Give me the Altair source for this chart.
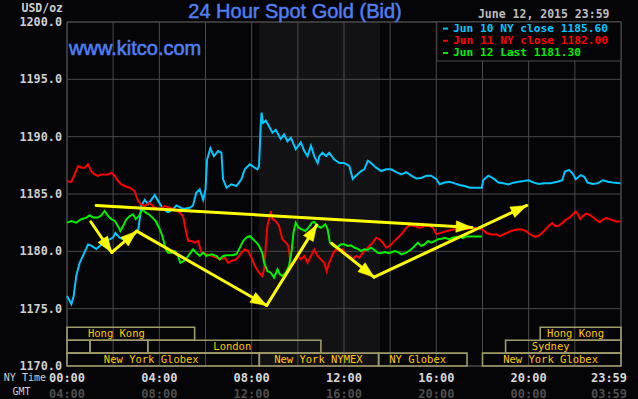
import math
import altair as alt
import pandas as pd

# ---------------- data ----------------
cyan_h = [0.0, 0.19, 0.29, 0.4, 0.55, 0.69, 0.91, 1.05, 1.27, 1.49, 1.7, 1.99, 2.1, 2.28, 2.5, 2.72, 2.93, 3.08, 3.15, 3.22, 3.37, 3.51, 3.8, 3.95, 4.16, 4.38, 4.6, 4.74, 5.03, 5.32, 5.46, 5.6, 5.75, 5.9, 6.0, 6.07, 6.21, 6.36, 6.55, 6.69, 6.76, 6.91, 7.12, 7.34, 7.56, 7.7, 7.92, 8.13, 8.25, 8.32, 8.39, 8.43, 8.49, 8.61, 8.75, 8.9, 9.04, 9.26, 9.4, 9.55, 9.7, 9.91, 10.13, 10.28, 10.42, 10.57, 10.71, 10.86, 10.93, 11.07, 11.22, 11.36, 11.58, 11.8, 12.01, 12.23, 12.38, 12.52, 12.74, 12.88, 13.03, 13.17, 13.39, 13.61, 13.83, 14.04, 14.26, 14.48, 14.7, 14.91, 15.13, 15.35, 15.57, 15.78, 16.0, 16.14, 16.36, 16.57, 16.79, 17.0, 17.23, 17.45, 17.74, 17.97, 18.03, 18.25, 18.47, 18.69, 18.9, 19.12, 19.34, 19.56, 19.78, 20.0, 20.22, 20.44, 20.66, 20.95, 21.24, 21.46, 21.56, 21.75, 21.9, 22.04, 22.26, 22.41, 22.55, 22.77, 22.99, 23.21, 23.43, 23.65, 23.98]
cyan_p = [1176.1, 1175.4, 1176.1, 1177.85, 1179.0, 1179.6, 1180.6, 1180.5, 1180.2, 1180.6, 1180.9, 1181.2, 1181.6, 1181.2, 1181.0, 1181.2, 1181.5, 1181.8, 1182.8, 1184.0, 1184.5, 1184.1, 1184.9, 1184.4, 1183.7, 1183.4, 1183.7, 1184.0, 1183.7, 1183.8, 1184.0, 1185.1, 1185.4, 1184.5, 1185.4, 1188.0, 1189.0, 1188.3, 1188.75, 1188.6, 1186.3, 1185.55, 1185.85, 1185.7, 1186.3, 1187.15, 1187.6, 1187.3, 1187.15, 1187.45, 1190.9, 1192.1, 1191.2, 1191.4, 1190.9, 1190.35, 1190.6, 1189.8, 1190.2, 1189.6, 1189.9, 1188.9, 1189.5, 1188.75, 1188.3, 1189.2, 1188.3, 1187.7, 1188.3, 1188.6, 1188.3, 1188.6, 1188.0, 1187.7, 1187.7, 1187.45, 1186.3, 1186.6, 1187.0, 1187.15, 1187.9, 1187.7, 1187.3, 1187.0, 1187.15, 1187.15, 1186.9, 1186.7, 1186.9, 1186.6, 1186.35, 1186.4, 1186.6, 1186.6, 1186.3, 1185.85, 1186.0, 1186.07, 1185.93, 1185.78, 1185.7, 1185.55, 1185.55, 1185.55, 1186.2, 1186.6, 1186.36, 1186.0, 1185.93, 1185.84, 1185.99, 1186.07, 1186.13, 1186.2, 1185.99, 1185.87, 1185.93, 1185.93, 1186.07, 1186.2, 1186.94, 1187.09, 1186.8, 1186.28, 1186.65, 1186.5, 1186.0, 1185.87, 1185.93, 1186.2, 1186.07, 1186.0, 1185.93]

red_h = [0.0, 0.19, 0.33, 0.48, 0.62, 0.77, 0.91, 1.05, 1.2, 1.34, 1.49, 1.63, 1.78, 1.92, 2.07, 2.21, 2.36, 2.5, 2.72, 2.93, 3.08, 3.22, 3.37, 3.58, 3.8, 4.02, 4.23, 4.45, 4.67, 4.88, 5.03, 5.14, 5.25, 5.39, 5.53, 5.68, 5.82, 6.04, 6.26, 6.47, 6.62, 6.84, 6.98, 7.12, 7.34, 7.56, 7.7, 7.85, 7.99, 8.14, 8.32, 8.46, 8.54, 8.61, 8.68, 8.75, 8.83, 8.9, 9.04, 9.19, 9.33, 9.48, 9.59, 9.7, 9.84, 9.99, 10.13, 10.28, 10.42, 10.57, 10.71, 10.86, 11.0, 11.14, 11.25, 11.36, 11.51, 11.65, 11.8, 11.94, 12.09, 12.23, 12.38, 12.52, 12.67, 12.81, 12.96, 13.1, 13.25, 13.39, 13.54, 13.68, 13.83, 13.97, 14.12, 14.26, 14.41, 14.55, 14.7, 14.84, 15.06, 15.28, 15.49, 15.71, 15.86, 16.0, 16.22, 16.42, 16.72, 17.0, 17.3, 17.59, 17.81, 18.0, 18.18, 18.39, 18.61, 18.76, 18.9, 19.05, 19.27, 19.49, 19.71, 19.9, 20.07, 20.29, 20.44, 20.58, 20.73, 20.88, 21.02, 21.17, 21.31, 21.46, 21.61, 21.75, 21.9, 22.04, 22.15, 22.23, 22.34, 22.48, 22.63, 22.77, 22.92, 23.07, 23.21, 23.36, 23.5, 23.65, 23.8, 23.98]
red_p = [1186.13, 1186.05, 1186.7, 1187.44, 1187.3, 1187.3, 1187.6, 1187.0, 1186.7, 1186.57, 1186.7, 1186.7, 1186.7, 1186.86, 1186.57, 1186.13, 1185.84, 1185.7, 1185.55, 1185.26, 1184.39, 1184.1, 1183.95, 1184.24, 1183.8, 1183.66, 1183.95, 1183.8, 1183.66, 1183.37, 1183.08, 1181.9, 1180.9, 1180.9, 1180.76, 1180.9, 1179.9, 1179.74, 1179.6, 1179.45, 1179.3, 1179.45, 1179.0, 1179.16, 1179.3, 1179.88, 1180.17, 1180.03, 1179.45, 1178.72, 1178.14, 1177.85, 1178.43, 1180.47, 1182.2, 1182.8, 1183.5, 1182.8, 1182.65, 1182.2, 1181.05, 1180.76, 1180.47, 1178.72, 1179.0, 1179.6, 1179.3, 1179.6, 1179.0, 1179.6, 1180.17, 1179.6, 1179.3, 1179.0, 1178.28, 1179.0, 1179.74, 1180.17, 1180.03, 1180.17, 1179.74, 1179.6, 1179.3, 1179.6, 1179.45, 1179.88, 1180.17, 1180.47, 1180.76, 1181.19, 1181.05, 1180.76, 1180.32, 1180.47, 1180.76, 1181.05, 1181.34, 1181.63, 1182.06, 1182.27, 1182.2, 1182.06, 1182.2, 1182.2, 1182.06, 1181.48, 1181.63, 1181.75, 1181.9, 1181.98, 1181.95, 1182.04, 1182.04, 1181.9, 1181.6, 1181.47, 1181.47, 1181.32, 1181.47, 1181.6, 1181.8, 1181.9, 1181.9, 1181.75, 1181.47, 1181.26, 1181.38, 1181.6, 1181.9, 1182.24, 1182.47, 1182.18, 1182.24, 1182.47, 1182.76, 1182.9, 1183.19, 1183.48, 1183.19, 1182.82, 1183.05, 1183.28, 1183.19, 1182.99, 1182.76, 1182.53, 1182.76, 1182.9, 1182.82, 1182.7, 1182.61, 1182.61]

green_h = [0.0, 0.19, 0.4, 0.62, 0.84, 0.98, 1.13, 1.34, 1.49, 1.63, 1.78, 1.92, 2.07, 2.21, 2.31, 2.43, 2.57, 2.72, 2.86, 2.98, 3.12, 3.27, 3.41, 3.55, 3.7, 3.84, 3.99, 4.13, 4.28, 4.38, 4.52, 4.67, 4.81, 4.91, 5.06, 5.2, 5.35, 5.46, 5.6, 5.75, 5.9, 6.04, 6.26, 6.47, 6.62, 6.76, 6.91, 7.12, 7.34, 7.49, 7.63, 7.77, 7.92, 8.06, 8.21, 8.32, 8.46, 8.54, 8.68, 8.83, 8.97, 9.12, 9.22, 9.33, 9.48, 9.62, 9.74, 9.81, 9.91, 10.03, 10.17, 10.32, 10.46, 10.61, 10.71, 10.86, 11.0, 11.19, 11.29, 11.39, 11.54, 11.68, 11.87, 12.01, 12.16, 12.3, 12.45, 12.59, 12.74, 12.88, 13.03, 13.17, 13.32, 13.46, 13.61, 13.75, 13.97, 14.19, 14.33, 14.48, 14.7, 14.91, 15.06, 15.2, 15.35, 15.49, 15.64, 15.78, 15.93, 16.07, 16.22, 16.36, 16.55, 16.74, 17.0, 17.15, 17.3, 17.97]
green_p = [1182.5, 1182.65, 1182.5, 1182.8, 1182.94, 1183.14, 1182.94, 1182.94, 1183.14, 1183.52, 1183.08, 1182.8, 1182.65, 1182.2, 1181.77, 1182.2, 1182.8, 1183.08, 1183.23, 1182.8, 1183.08, 1183.66, 1183.37, 1183.23, 1182.94, 1182.65, 1182.06, 1181.34, 1180.17, 1179.88, 1179.88, 1180.03, 1179.6, 1179.0, 1179.16, 1179.45, 1179.88, 1180.17, 1179.88, 1179.6, 1179.88, 1179.6, 1179.74, 1179.6, 1179.3, 1179.6, 1179.65, 1179.65, 1179.74, 1180.32, 1180.9, 1181.2, 1181.34, 1181.05, 1180.76, 1180.47, 1179.88, 1179.0, 1178.28, 1178.14, 1177.7, 1178.43, 1178.0, 1177.85, 1178.14, 1178.72, 1180.17, 1181.63, 1182.5, 1182.06, 1181.92, 1181.77, 1182.06, 1182.5, 1182.56, 1182.2, 1182.06, 1182.35, 1181.92, 1180.76, 1180.47, 1180.32, 1180.61, 1180.61, 1180.47, 1180.52, 1180.32, 1180.23, 1180.03, 1180.17, 1180.12, 1180.32, 1180.12, 1179.88, 1179.83, 1179.94, 1179.83, 1180.03, 1179.94, 1179.74, 1179.88, 1180.17, 1180.47, 1180.76, 1180.47, 1180.61, 1180.9, 1180.76, 1180.9, 1181.05, 1181.1, 1181.19, 1181.05, 1181.2, 1181.3, 1181.15, 1181.3, 1181.3]

legend_labels = ["Jun 10 NY close 1185.60", "Jun 11 NY close 1182.00", "Jun 12 Last 1181.30"]
series_colors = ["#00c8ff", "#ff0000", "#00f000"]

y_ticks = [1170, 1175, 1180, 1185, 1190, 1195, 1200]
x_grid = [0, 2, 4, 6, 8, 10, 12, 14, 16, 18, 20, 22, 24]
ny_label_h = [0, 4, 8, 12, 16, 20, 23.48]
ny_labels = ["00:00", "04:00", "08:00", "12:00", "16:00", "20:00", "23:59"]
gmt_labels = ["04:00", "08:00", "12:00", "16:00", "20:00", "00:00", "03:59"]

nymex_start, nymex_end = 8.33, 13.56

sess_name = ["Hong Kong", "", "", "London", "New York Globex", "New York NYMEX", "NY Globex", "New York Globex", "Sydney", "Hong Kong"]
sess_start = [0, 0, 1.0, 3.5, 0, 8.33, 13.5, 18.0, 19.0, 20.5]
sess_end = [5.53, 1.0, 3.5, 11.0, 8.33, 13.5, 17.33, 24, 24, 24]
sess_row = [1, 2, 2, 2, 3, 3, 3, 3, 2, 1]
sess_label_h = [2.14, None, None, 7.16, 3.65, 10.89, 15.19, 20.95, 20.95, 22.03]

arrow_h1 = [1.26, 1.03, 1.94, 3.02, 8.65, 11.47, 13.30]
arrow_p1 = [1184.0, 1182.58, 1179.9, 1181.76, 1175.28, 1180.69, 1177.75]
arrow_h2 = [17.55, 1.94, 3.02, 8.65, 10.82, 13.30, 19.92]
arrow_p2 = [1182.08, 1179.9, 1181.76, 1175.28, 1182.30, 1177.75, 1184.0]

# ---------------- layout / style ----------------
W, H = 554, 344
PXH = W / 24.0
PXP = H / 30.0
BG = "#050407"
GRID = "#4a4a4a"
MONO = "DejaVu Sans Mono"
SANS = "Liberation Sans"
BLUE = "#4f7ff2"
YEL = "#ffff00"
BOX = "#a09a68"
BOXTXT = "#ffc800"

xs = alt.Scale(domain=[0, 24], nice=False, zero=False)
ys = alt.Scale(domain=[1170, 1200], nice=False, zero=False)


def X(f):
    return alt.X(f, type="quantitative", scale=xs, axis=None)


def Y(f):
    return alt.Y(f, type="quantitative", scale=ys, axis=None)


one = pd.DataFrame({"a": [0]})

# shaded NYMEX window
shade = alt.Chart(pd.DataFrame({"h": [nymex_start], "h2": [nymex_end]})).mark_rect(
    fill="#e8f0e8", opacity=0.06
).encode(x=X("h"), x2="h2:Q", y=alt.value(0), y2=alt.value(H))

# grid
vgrid = alt.Chart(pd.DataFrame({"h": x_grid})).mark_rule(color=GRID, strokeWidth=1).encode(
    x=X("h"), y=alt.value(0), y2=alt.value(H))
hgrid = alt.Chart(pd.DataFrame({"p": y_ticks})).mark_rule(color=GRID, strokeWidth=1).encode(
    y=Y("p"), x=alt.value(0), x2=alt.value(W))
ylab_df = pd.DataFrame({"p": y_ticks, "t": [f"{v:.1f}" for v in y_ticks]})
ylabels = alt.Chart(ylab_df).mark_text(font=MONO, fontSize=11.8, fontWeight="bold", color="#cfcfcf",
                                       align="right", baseline="middle").encode(
    y=Y("p"), x=alt.value(-5), text="t:N")

# session boxes
ROW = 1.125
sess = pd.DataFrame({"name": sess_name, "h": sess_start, "h2": sess_end, "row": sess_row, "lh": sess_label_h})
sess["p"] = 1170 + (3 - sess["row"]) * ROW
sess["p2"] = sess["p"] + ROW
sess["pc"] = sess["p"] + ROW / 2
boxes = alt.Chart(sess).mark_rect(fillOpacity=0, stroke=BOX, strokeWidth=1.6).encode(
    x=X("h"), x2="h2:Q", y=Y("p"), y2="p2:Q")
sess_lab = sess[sess["name"] != ""]
box_text = alt.Chart(sess_lab).mark_text(font=MONO, fontSize=10.5, color=BOXTXT, align="center",
                                         baseline="middle", dy=0.5).encode(
    x=X("lh"), y=Y("pc"), text="name:N")


# price lines
def line_layer(hs, ps, color):
    df = pd.DataFrame({"h": hs, "p": ps})
    return alt.Chart(df).mark_line(color=color, strokeWidth=2, interpolate="linear").encode(
        x=X("h"), y=Y("p"))


l_cyan = line_layer(cyan_h, cyan_p, series_colors[0])
l_red = line_layer(red_h, red_p, series_colors[1])
l_green = line_layer(green_h, green_p, series_colors[2])

# arrows
arr = pd.DataFrame({"h": arrow_h1, "p": arrow_p1, "h2": arrow_h2, "p2": arrow_p2})
arr["ang"] = [
    (math.degrees(math.atan2((b - a) * PXH, (d - c) * PXP)) + 360) % 360
    for a, b, c, d in zip(arr["h"], arr["h2"], arr["p"], arr["p2"])
]
arrow_lines = alt.Chart(arr).mark_rule(color=YEL, strokeWidth=3, strokeCap="round").encode(
    x=X("h"), x2="h2:Q", y=Y("p"), y2="p2:Q")
arrow_heads = alt.Chart(arr).mark_point(
    shape="M0,0L0.72,2L-0.72,2Z", filled=True, fill=YEL, stroke=YEL, strokeWidth=0.5,
    opacity=1, size=256,
).encode(x=X("h2"), y=Y("p2"), angle=alt.Angle("ang:Q", scale=None))

# legend box
leg_box = alt.Chart(pd.DataFrame({"h": [16.02], "h2": [24], "p": [1196.6], "p2": [1200]})).mark_rect(
    fill=BG, stroke=GRID, strokeWidth=1
).encode(x=X("h"), x2="h2:Q", y=Y("p"), y2="p2:Q")
leg = pd.DataFrame({"t": legend_labels, "c": series_colors, "i": [0, 1, 2]})
leg["y"] = 6.6 + leg["i"] * 12.2
leg_text = alt.Chart(leg).mark_text(font=MONO, fontSize=11.2, fontWeight="bold", align="left",
                                    baseline="middle").encode(
    x=alt.value(386), y=alt.Y("y:Q", scale=None, axis=None), text="t:N",
    color=alt.Color("c:N", scale=None))
leg_dash = alt.Chart(leg).mark_rule(strokeWidth=2).encode(
    x=alt.value(376), x2=alt.value(381), y=alt.Y("y:Q", scale=None, axis=None),
    color=alt.Color("c:N", scale=None))

# frame
frame = alt.Chart(one).mark_rect(fillOpacity=0, stroke=GRID, strokeWidth=1).encode(
    x=alt.value(0), x2=alt.value(W), y=alt.value(0), y2=alt.value(H))

# header texts
title = alt.Chart(one).mark_text(text="24 Hour Spot Gold (Bid)", font=SANS, fontSize=20, color=BLUE,
                                 stroke=BLUE, strokeWidth=0.5, align="center", baseline="alphabetic").encode(
    x=alt.value(228), y=alt.value(-4.5))
kitco = alt.Chart(one).mark_text(text="www.kitco.com", font=SANS, fontSize=20, color=BLUE,
                                 stroke=BLUE, strokeWidth=0.6, align="left", baseline="alphabetic").encode(
    x=alt.value(2), y=alt.value(32.5))
usd = alt.Chart(one).mark_text(text="USD/oz", font=MONO, fontSize=11.5, fontWeight="bold", color="#cfcfcf",
                               align="right", baseline="middle").encode(x=alt.value(-4), y=alt.value(-13.5))
date = alt.Chart(one).mark_text(text="June 12, 2015 23:59", font=MONO, fontSize=11.5, fontWeight="bold",
                                color="#bdbdbd", align="right", baseline="middle").encode(
    x=alt.value(542.5), y=alt.value(-7))

# x labels
xl = pd.DataFrame({"h": ny_label_h, "ny": ny_labels, "gmt": gmt_labels})
ny_text = alt.Chart(xl).mark_text(font=MONO, fontSize=12, fontWeight="bold", color="#d8d8d8",
                                  align="center", baseline="middle").encode(
    x=X("h"), y=alt.value(356.3), text="ny:N")
gmt_text = alt.Chart(xl).mark_text(font=MONO, fontSize=12, fontWeight="bold", color="#4e4e4e",
                                   align="center", baseline="middle").encode(
    x=X("h"), y=alt.value(371.5), text="gmt:N")
ny_lab = alt.Chart(one).mark_text(text="NY Time", font=MONO, fontSize=10, color="#cfcfcf",
                                  align="right", baseline="middle").encode(x=alt.value(-21), y=alt.value(356))
gmt_lab = alt.Chart(one).mark_text(text="GMT", font=MONO, fontSize=10, color="#cfcfcf",
                                   align="center", baseline="middle").encode(x=alt.value(-45.5), y=alt.value(370))

chart = alt.layer(
    shade, vgrid, hgrid, frame, ylabels, boxes, box_text, leg_box, leg_dash, leg_text,
    l_cyan, l_red, l_green, arrow_lines, arrow_heads,
    title, kitco, usd, date, ny_text, gmt_text, ny_lab, gmt_lab,
).properties(
    width=W, height=H, autosize="none",
    padding={"left": 67, "top": 22, "right": 17, "bottom": 33},
    background=BG,
).configure_view(stroke=None, fill=BG)

chart.save("out.html", embed_options={"renderer": "svg", "actions": False})
